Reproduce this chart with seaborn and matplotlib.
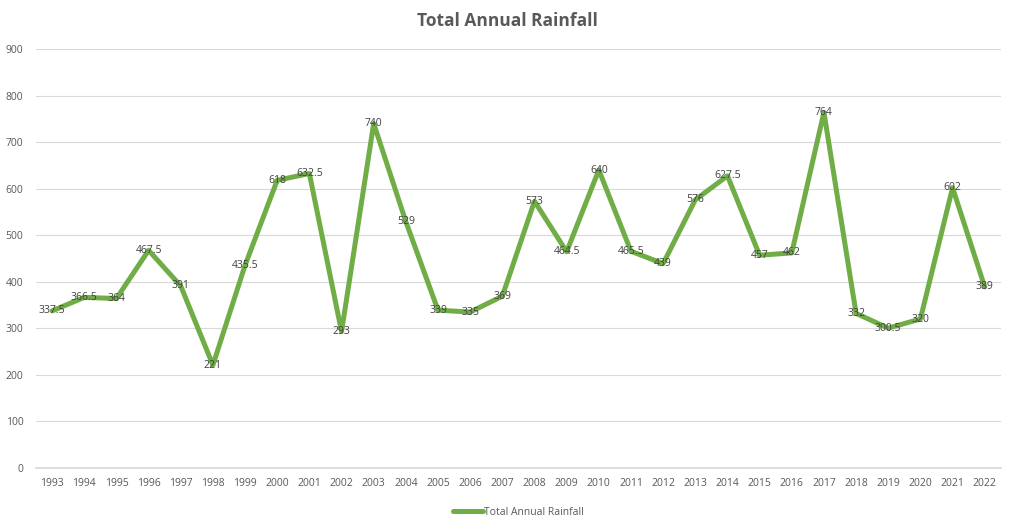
import matplotlib
matplotlib.use("Agg")
import matplotlib.pyplot as plt
import seaborn as sns
import pandas as pd

# data
years = list(range(1993, 2023))
rainfall = [337.5, 366.5, 364, 467.5, 391, 221, 435.5, 618, 632.5, 293,
            740, 529, 339, 335, 369, 573, 464.5, 640, 465.5, 439,
            576, 627.5, 457, 462, 764, 332, 300.5, 320, 602, 389]
y_ticks = [0, 100, 200, 300, 400, 500, 600, 700, 800, 900]
series_name = "Total Annual Rainfall"

df = pd.DataFrame({"Year": years, series_name: rainfall})

sns.set_theme(style="white")
plt.rcParams['font.family'] = ['Open Sans', 'DejaVu Sans']

fig = plt.figure(figsize=(10.15, 5.29), dpi=100)
ax = fig.add_axes([0.0355, 0.1153, 0.9505, 0.7921])

sns.lineplot(data=df, x="Year", y=series_name, ax=ax, color="#70AD47",
             linewidth=3.6, label=series_name, solid_joinstyle="round",
             solid_capstyle="round")

for x, v in zip(years, rainfall):
    ax.text(x, v, f"{v:g}", ha="center", va="center", fontsize=7.5,
            color="#404040")

ax.set_xlim(1992.5, 2022.5)
ax.set_ylim(0, 900)
ax.set_yticks(y_ticks)
ax.set_xticks(years)
ax.set_xticklabels([str(y) for y in years])
ax.tick_params(axis="both", labelsize=7.5, colors="#595959", length=0)
ax.tick_params(axis="y", pad=9)
ax.tick_params(axis="x", pad=7)

ax.grid(axis="y", color="#D9D9D9", linewidth=0.8)
ax.set_axisbelow(True)
for s in ["top", "right", "left"]:
    ax.spines[s].set_visible(False)
ax.spines["bottom"].set_color("#D9D9D9")
ax.set_xlabel("")
ax.set_ylabel("")

fig.suptitle("Total Annual Rainfall", x=0.5, y=0.978, fontsize=12.5,
             fontweight="bold", color="#595959")

ax.legend(loc="upper center", bbox_to_anchor=(0.5, -0.07), frameon=False,
          fontsize=7.5, labelcolor="#595959", handlelength=2.8,
          handletextpad=0.1)

fig.savefig("out.png", dpi=100)
